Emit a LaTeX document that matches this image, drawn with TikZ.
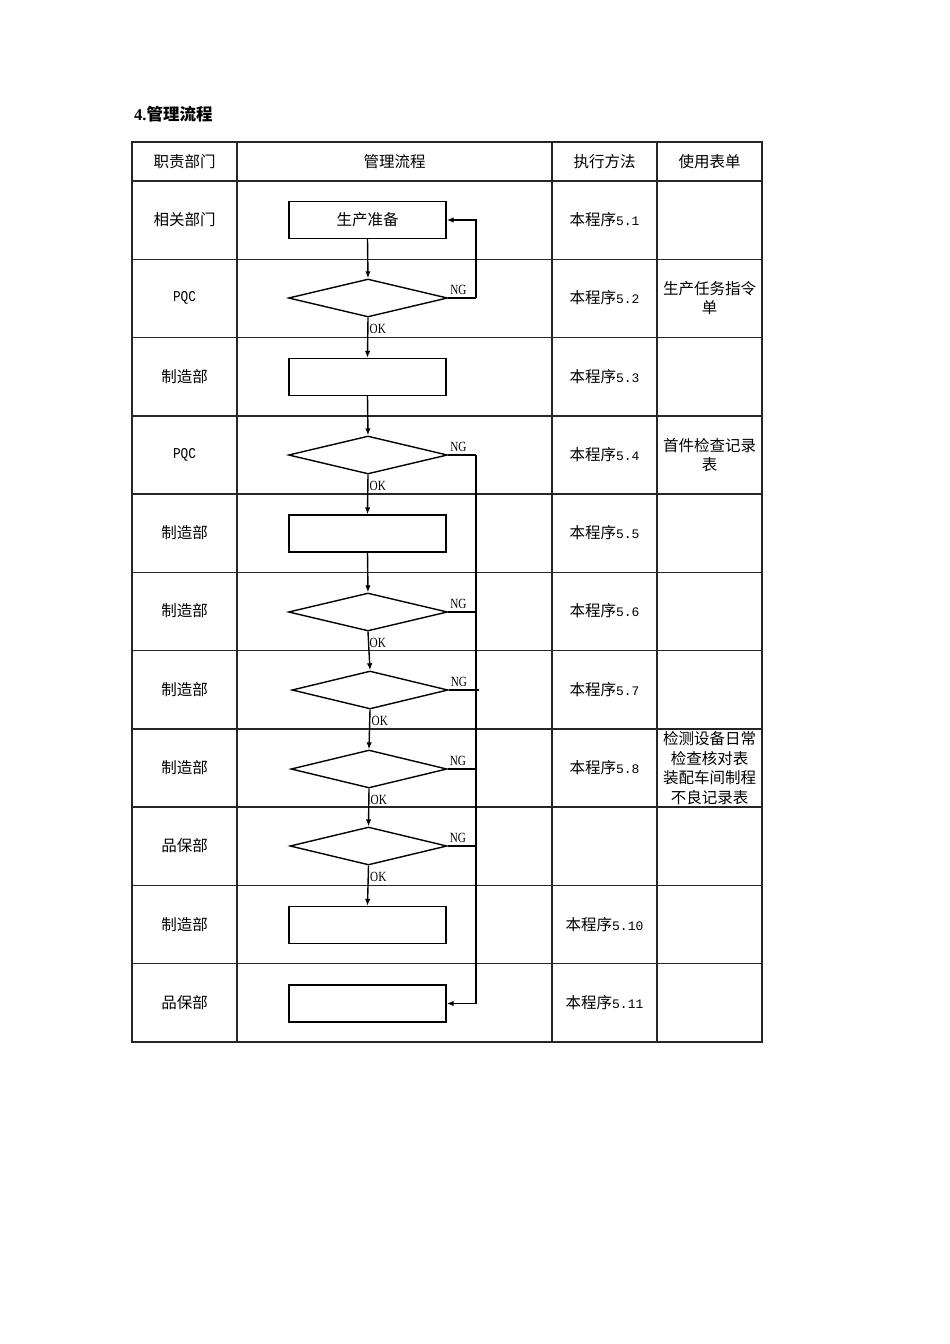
\documentclass[tikz,border=0pt]{standalone}
\usepackage{fontspec}
\setmainfont{Liberation Serif}
\newfontfamily\cjk{Noto Sans CJK SC}
\newfontfamily\latm{Liberation Mono}
\usetikzlibrary{shapes.geometric,arrows.meta}
\begin{document}
\begin{tikzpicture}[x=1pt,y=-1pt,
  grid/.style={line width=1.5pt,draw=black!85},
  procbox/.style={draw,line width=1.4pt,minimum width=157pt,minimum height=37pt,inner sep=0pt,font=\cjk\fontsize{15.5}{18}\selectfont},
  decbox/.style={draw,line width=1.4pt,shape=diamond,minimum width=159pt,minimum height=38pt,inner sep=0pt},
  flow/.style={line width=1.4pt,-{Latex[length=7pt,width=5.5pt]}},
  line/.style={line width=1.4pt},
  cell/.style={font=\cjk\fontsize{15.5}{19.5}\selectfont,align=center,inner sep=0pt},
  tag/.style={font=\fontsize{14}{14}\selectfont,inner sep=0pt,anchor=west,xscale=0.8}
]
\useasboundingbox (0,0) rectangle (950,1344);
\fill[white] (0,0) rectangle (950,1344);

% title
\node[anchor=west,inner sep=0pt] (title) at (134,114) {\fontsize{16.5}{18}\selectfont\textbf{4.}\cjk\bfseries 管理流程};

% table grid
\draw[grid] (132,142) rectangle (762,1042);
\foreach \x in {237,552,657} \draw[grid] (\x,142) -- (\x,1042);
\foreach \y in {181,259.3,337.5,415.8,494.1,572.4,650.6,728.9,807.2,885.5,963.7} \draw[grid] (132,\y) -- (762,\y);

% header
\node[cell] (h1) at (184.5,161.5) {职责部门};
\node[cell] (h2) at (394.5,161.5) {管理流程};
\node[cell] (h3) at (604.5,161.5) {执行方法};
\node[cell] (h4) at (709.5,161.5) {使用表单};

% column 1
\node[cell] (r1) at (184.5,220) {相关部门};
\node[cell,font=\fontsize{15}{16}\selectfont\latm,xscale=0.85] (r2) at (184.5,298) {PQC};
\node[cell] (r3) at (184.5,377) {制造部};
\node[cell,font=\fontsize{15}{16}\selectfont\latm,xscale=0.85] (r4) at (184.5,455) {PQC};
\node[cell] (r5) at (184.5,533) {制造部};
\node[cell] (r6) at (184.5,611) {制造部};
\node[cell] (r7) at (184.5,690) {制造部};
\node[cell] (r8) at (184.5,768) {制造部};
\node[cell] (r9) at (184.5,846) {品保部};
\node[cell] (r10) at (184.5,925) {制造部};
\node[cell] (r11) at (184.5,1003) {品保部};

% column 3
\foreach \n/\y/\t in {1/220/1,2/298/2,3/377/3,4/455/4,5/533/5,6/611/6,7/690/7,8/768/8}
  \node[cell] (m\n) at (604.5,\y) {本程序{\latm\fontsize{13}{14}\selectfont 5.\t}};
\node[cell] (m10) at (604.5,925) {本程序{\latm\fontsize{13}{14}\selectfont 5.10}};
\node[cell] (m11) at (604.5,1003) {本程序{\latm\fontsize{13}{14}\selectfont 5.11}};

% column 4
\node[cell] (f2) at (709.5,298) {生产任务指令\\单};
\node[cell] (f4) at (709.5,455) {首件检查记录\\表};
\node[cell] (f8) at (709.5,768) {检测设备日常\\检查核对表\\装配车间制程\\不良记录表};

% flow nodes
\node[procbox] (b1) at (367.5,220) {生产准备};
\node[decbox] (d2) at (368,298) {};
\node[procbox] (b3) at (367.5,377) {};
\node[decbox] (d4) at (368,455) {};
\node[procbox] (b5) at (367.5,533.5) {};
\node[decbox] (d6) at (368,612) {};
\node[decbox,minimum width=156pt] (d7) at (370,690) {};
\node[decbox,minimum width=156pt] (d8) at (369,769) {};
\node[decbox,minimum width=157pt] (d9) at (368.5,846) {};
\node[procbox] (b10) at (367.5,925) {};
\node[procbox] (b11) at (367.5,1003.5) {};

% main flow
\draw[flow] (b1.south) -- (d2.north);
\draw[flow] (d2.south) -- (b3.north);
\draw[flow] (b3.south) -- (d4.north);
\draw[flow] (d4.south) -- (b5.north);
\draw[flow] (b5.south) -- (d6.north);
\draw[flow] (d6.south) -- (d7.north);
\draw[flow] (d7.south) -- (d8.north);
\draw[flow] (d8.south) -- (d9.north);
\draw[flow] (d9.south) -- (b10.north);

% NG return to start
\coordinate (n2) at (476,298);
\draw[line] (d2.east) -- (n2);
\draw[flow] (n2) |- (b1.east);

% NG bus
\coordinate (n4) at (476,455);
\coordinate (n6) at (476,612);
\coordinate (n7) at (479,690);
\coordinate (n8) at (476,769);
\coordinate (n9) at (476,846);
\coordinate (n11) at (476,1003.5);
\draw[line] (d4.east) -- (n4);
\draw[line] (d6.east) -- (n6);
\draw[line] (d7.east) -- (n7);
\draw[line] (d8.east) -- (n8);
\draw[line] (d9.east) -- (n9);
\draw[flow] (n4) -- (n11) -- (b11.east);

% labels
\foreach \d in {d2,d4,d6,d7,d8,d9} {
  \node[tag] at ([xshift=2pt,yshift=8pt]\d.east) {NG};
  \node[tag] at ([xshift=1.5pt,yshift=-11pt]\d.south) {OK};
}
\end{tikzpicture}
\end{document}
